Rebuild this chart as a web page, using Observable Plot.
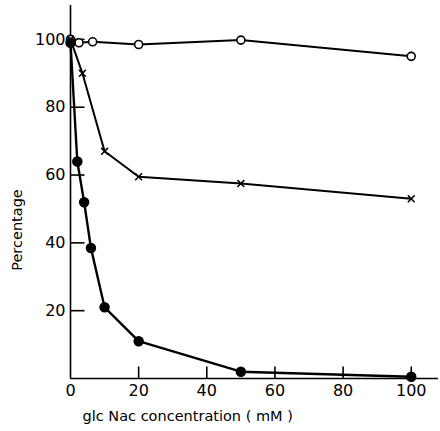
<!DOCTYPE html>
<html>
<head>
<meta charset="utf-8">
<script src="https://cdn.jsdelivr.net/npm/d3@7"></script>
<script src="https://cdn.jsdelivr.net/npm/@observablehq/plot@0.6"></script>
<style>
  html, body { margin: 0; padding: 0; background: #fff; }
  #chart svg { display: block; }
</style>
</head>
<body>
<div id="chart"></div>
<script>
// Series
const openX = [0, 2.5, 6.5, 20, 50, 100];
const openY = [100, 99, 99.3, 98.5, 99.8, 95];

const crossX = [0, 3.5, 10, 20, 50, 100];
const crossY = [100, 90, 67, 59.5, 57.5, 53];

const filledX = [0, 2, 4, 6, 10, 20, 50, 100];
const filledY = [99, 64, 52, 38.5, 21, 11, 2, 0.5];

const xTicks = [0, 20, 40, 60, 80, 100];
const yTicks = [20, 40, 60, 80, 100];
const xTitle = "glc Nac concentration ( mM )";
const yTitle = "Percentage";

const toRows = (xs, ys) => xs.map((x, i) => ({x, y: ys[i]}));
const openData = toRows(openX, openY);
const crossData = toRows(crossX, crossY);
const filledData = toRows(filledX, filledY);

const W = 440, H = 431, mL = 70, mR = 2, mT = 5, mB = 53;
const xDomain = [0, 108], yDomain = [0, 110];
const frameW = W - mL - mR, frameH = H - mT - mB;
// tick lengths in pixels converted to data units
const xTickLenData = 12 * (yDomain[1] - yDomain[0]) / frameH;
const yTickLenData = 14 * (xDomain[1] - xDomain[0]) / frameW;
const xTickRows = xTicks.filter(d => d > 0).map(v => ({x1: v, x2: v, y1: 0, y2: xTickLenData}));
const yTickRows = yTicks.map(v => ({x1: 0, x2: yTickLenData, y1: v, y2: v}));

const chart = Plot.plot({
  width: W,
  height: H,
  marginLeft: mL,
  marginRight: mR,
  marginTop: mT,
  marginBottom: mB,
  style: {fontFamily: "DejaVu Sans", background: "#fff", color: "#000"},
  x: {domain: xDomain, label: null},
  y: {domain: yDomain, label: null},
  marks: [
    Plot.ruleX([0], {stroke: "#000", strokeWidth: 1.6}),
    Plot.ruleY([0], {stroke: "#000", strokeWidth: 1.6}),
    Plot.link(xTickRows, {x1: "x1", x2: "x2", y1: "y1", y2: "y2", stroke: "#000", strokeWidth: 1.6}),
    Plot.link(yTickRows, {x1: "x1", x2: "x2", y1: "y1", y2: "y2", stroke: "#000", strokeWidth: 1.6}),
    Plot.axisX(xTicks, {tickSize: 0, tickPadding: 6, fontSize: 16}),
    Plot.axisY(yTicks, {tickSize: 0, tickPadding: 5, fontSize: 16}),
    Plot.line(openData, {x: "x", y: "y", stroke: "#000", strokeWidth: 2}),
    Plot.line(crossData, {x: "x", y: "y", stroke: "#000", strokeWidth: 2}),
    Plot.line(filledData, {x: "x", y: "y", stroke: "#000", strokeWidth: 2.4}),
    Plot.dot(openData, {x: "x", y: "y", r: 4, fill: "#fff", stroke: "#000", strokeWidth: 1.6}),
    Plot.dot(crossData, {x: "x", y: "y", r: 3.2, symbol: "times", stroke: "#000", strokeWidth: 1.5}),
    Plot.dot(filledData, {x: "x", y: "y", r: 4.5, fill: "#000", stroke: "#000"}),
    Plot.text([xTitle], {frameAnchor: "bottom-left", dx: 12, dy: 38, textAnchor: "start", lineAnchor: "middle", fontSize: 14.5}),
    Plot.text([yTitle], {frameAnchor: "left", dx: -53, dy: 38, rotate: -90, textAnchor: "middle", lineAnchor: "middle", fontSize: 14.5})
  ]
});
document.getElementById("chart").append(chart);
</script>
</body>
</html>
